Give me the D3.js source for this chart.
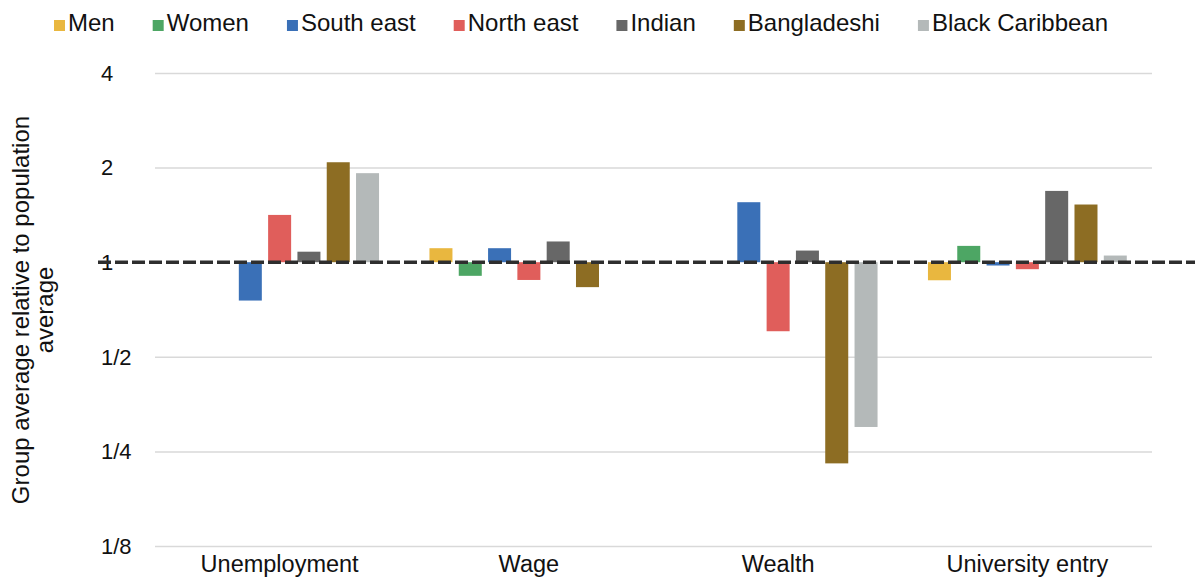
<!DOCTYPE html>
<html>
<head>
<meta charset="utf-8">
<script src="https://cdn.jsdelivr.net/npm/d3@7"></script>
<style>
  html, body { margin: 0; padding: 0; background: #ffffff; }
  svg { display: block; }
  text { font-family: "Liberation Sans", Arial, sans-serif; fill: #111111; }
</style>
</head>
<body>
<svg id="chart" width="1195" height="579"></svg>
<script>
// ---------- data ----------
const categories = ["Unemployment", "Wage", "Wealth", "University entry"];
const seriesNames = ["Men", "Women", "South east", "North east", "Indian", "Bangladeshi", "Black Caribbean"];
const seriesColors = ["#E9B73F", "#4DA664", "#3A70B7", "#E05E5B", "#676767", "#8D6D23", "#B4B9B9"];
// values relative to population average (1 = average); null = not shown
const menValues            = [null,  1.108, null,  0.876];
const womenValues          = [null,  0.905, null,  1.127];
const southEastValues      = [0.755, 1.108, 1.552, 0.976];
const northEastValues      = [1.414, 0.878, 0.603, 0.950];
const indianValues         = [1.080, 1.164, 1.089, 1.686];
const bangladeshiValues    = [2.080, 0.833, 0.229, 1.526];
const blackCaribbeanValues = [1.920, null,  0.299, 1.050];
const tickValues = [1/8, 1/4, 1/2, 1, 2, 4];
const tickLabels = ["1/8", "1/4", "1/2", "1", "2", "4"];
const yTitleLines = ["Group average relative to population", "average"];

const seriesValues = [menValues, womenValues, southEastValues, northEastValues,
                      indianValues, bangladeshiValues, blackCaribbeanValues];

// ---------- layout ----------
const svg = d3.select("#chart");
const plotLeft = 155, plotRight = 1152, plotTop = 73, plotBottom = 546;

const x0 = d3.scaleBand().domain(categories).range([plotLeft, plotRight]).padding(0);
const x1 = d3.scaleBand().domain(seriesNames).range([0, x0.bandwidth()])
  .paddingInner(0.215).paddingOuter(0.86);
const y = d3.scaleLog().base(2).domain([1/8, 4]).range([plotBottom, plotTop]);

// gridlines (except at 1, which is the dashed reference line)
const yAxis = d3.axisLeft(y).tickValues(tickValues)
  .tickSize(-(plotRight - plotLeft)).tickFormat("");
const gGrid = svg.append("g").attr("transform", `translate(${plotLeft},0)`).call(yAxis);
gGrid.select(".domain").remove();
gGrid.selectAll(".tick line")
  .attr("stroke", d => d === 1 ? "none" : "#d9d9d9")
  .attr("stroke-width", 1.5);

// tick labels (left aligned)
svg.append("g").selectAll("text").data(tickValues).join("text")
  .attr("x", 101)
  .attr("y", d => y(d))
  .attr("dy", "0.35em")
  .attr("font-size", 22)
  .text((d, i) => tickLabels[i]);

// bars
const rows = [];
categories.forEach((c, ci) => {
  seriesNames.forEach((s, si) => {
    const v = seriesValues[si][ci];
    if (v != null) rows.push({ c, s, v, color: seriesColors[si] });
  });
});
svg.append("g").selectAll("rect").data(rows).join("rect")
  .attr("x", d => x0(d.c) + x1(d.s))
  .attr("width", x1.bandwidth())
  .attr("y", d => Math.min(y(d.v), y(1)))
  .attr("height", d => Math.abs(y(d.v) - y(1)))
  .attr("fill", d => d.color);

// dashed reference line at 1
svg.append("line")
  .attr("x1", 98).attr("x2", 1195)
  .attr("y1", y(1)).attr("y2", y(1))
  .attr("stroke", "#2e2e2e")
  .attr("stroke-width", 3.5)
  .attr("stroke-dasharray", "13,4");

// x axis labels
const xAxis = d3.axisBottom(x0).tickSize(0).tickPadding(0);
const gx = svg.append("g").attr("transform", `translate(0,${plotBottom})`).call(xAxis);
gx.select(".domain").remove();
gx.selectAll(".tick text")
  .attr("y", 26)
  .attr("dy", 0)
  .attr("font-size", 23.5)
  .attr("font-family", "Liberation Sans, Arial, sans-serif")
  .attr("fill", "#111111");

// y title
const yt = svg.append("text")
  .attr("transform", "translate(0,310) rotate(-90)")
  .attr("text-anchor", "middle")
  .attr("font-size", 24);
yt.selectAll("tspan").data(yTitleLines).join("tspan")
  .attr("x", 0)
  .attr("y", (d, i) => 29 + i * 24)
  .text(d => d);

// legend
const legend = svg.append("g").attr("transform", "translate(54,0)");
let lx = 0;
seriesNames.forEach((s, i) => {
  const g = legend.append("g").attr("transform", `translate(${lx},0)`);
  g.append("rect").attr("x", 0).attr("y", 20).attr("width", 11).attr("height", 11)
    .attr("fill", seriesColors[i]);
  const t = g.append("text").attr("x", 14).attr("y", 31).attr("font-size", 24).text(s);
  lx += 14 + t.node().getComputedTextLength() + 38;
});
</script>
</body>
</html>
